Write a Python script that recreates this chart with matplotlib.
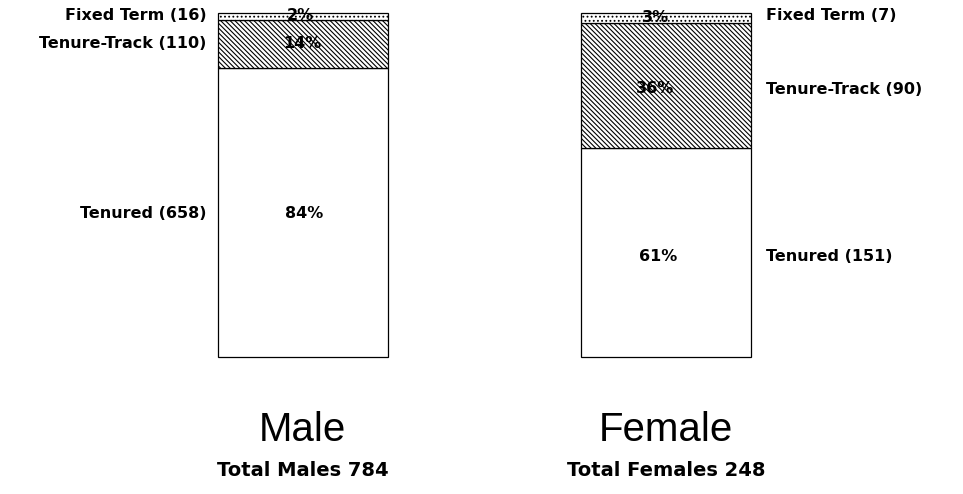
import matplotlib
matplotlib.use("Agg")
import matplotlib.pyplot as plt
import numpy as np

groups = ["Male", "Female"]
totals_labels = ["Total Males 784", "Total Females 248"]
categories = ["Tenured", "Tenure-Track", "Fixed Term"]
male_counts = [658, 110, 16]
female_counts = [151, 90, 7]
male_pcts = ["84%", "14%", "2%"]
female_pcts = ["61%", "36%", "3%"]

plt.rcParams['hatch.linewidth'] = 0.8
fig = plt.figure(figsize=(9.63, 4.94), dpi=100)
ax = fig.add_axes([0, (494 - 357) / 494, 1, (357 - 13) / 494])
px = 363.5
py = 100 / 344
ax.set_xlim(-302.5 / px, (963 - 302.5) / px)
ax.set_ylim(0, 100)
ax.axis('off')

hatches = ["", "\\" * 7, "...."]
width = 170 / px
lab_font = dict(family="DejaVu Sans", fontweight="bold", fontsize=11.5)

# pixel nudges for labels (category label dy, percent label dx, dy), per group
lab_dy = [[-1, 1, 1], [-4, -4.5, 2]]
pct_dx = [[2, 0, -2], [-8, -11, -11]]
pct_dy = [[-1, 1, 1], [-4, -3.5, 0]]

for gi, (counts, pcts) in enumerate([(male_counts, male_pcts), (female_counts, female_pcts)]):
    total = sum(counts)
    vals = [100 * c / total for c in counts]
    bottom = 0
    for ci, v in enumerate(vals):
        ax.bar(gi, v, width=width, bottom=bottom, color="white", edgecolor="black",
               hatch=hatches[ci], linewidth=0.9, clip_on=False)
        mid = bottom + v / 2
        ax.text(gi + pct_dx[gi][ci] / px, mid + pct_dy[gi][ci] * py, pcts[ci],
                ha="center", va="center", **lab_font)
        lbl = f"{categories[ci]} ({counts[ci]})"
        y = mid + lab_dy[gi][ci] * py
        if gi == 0:
            ax.text(gi - width / 2 - 11 / px, y, lbl, ha="right", va="center", **lab_font)
        else:
            ax.text(gi + width / 2 + 15 / px, y, lbl, ha="left", va="center", **lab_font)
        bottom += v

for gi in range(2):
    fig.text((302.5 + gi * px) / 963, 1 - 430 / 494, groups[gi], ha="center", va="center",
             family="Liberation Sans", fontsize=29)
    fig.text((302.5 + gi * px) / 963, 1 - 470 / 494, totals_labels[gi], ha="center", va="center",
             family="DejaVu Sans", fontweight="bold", fontsize=14)

fig.savefig("out.png", dpi=100)
